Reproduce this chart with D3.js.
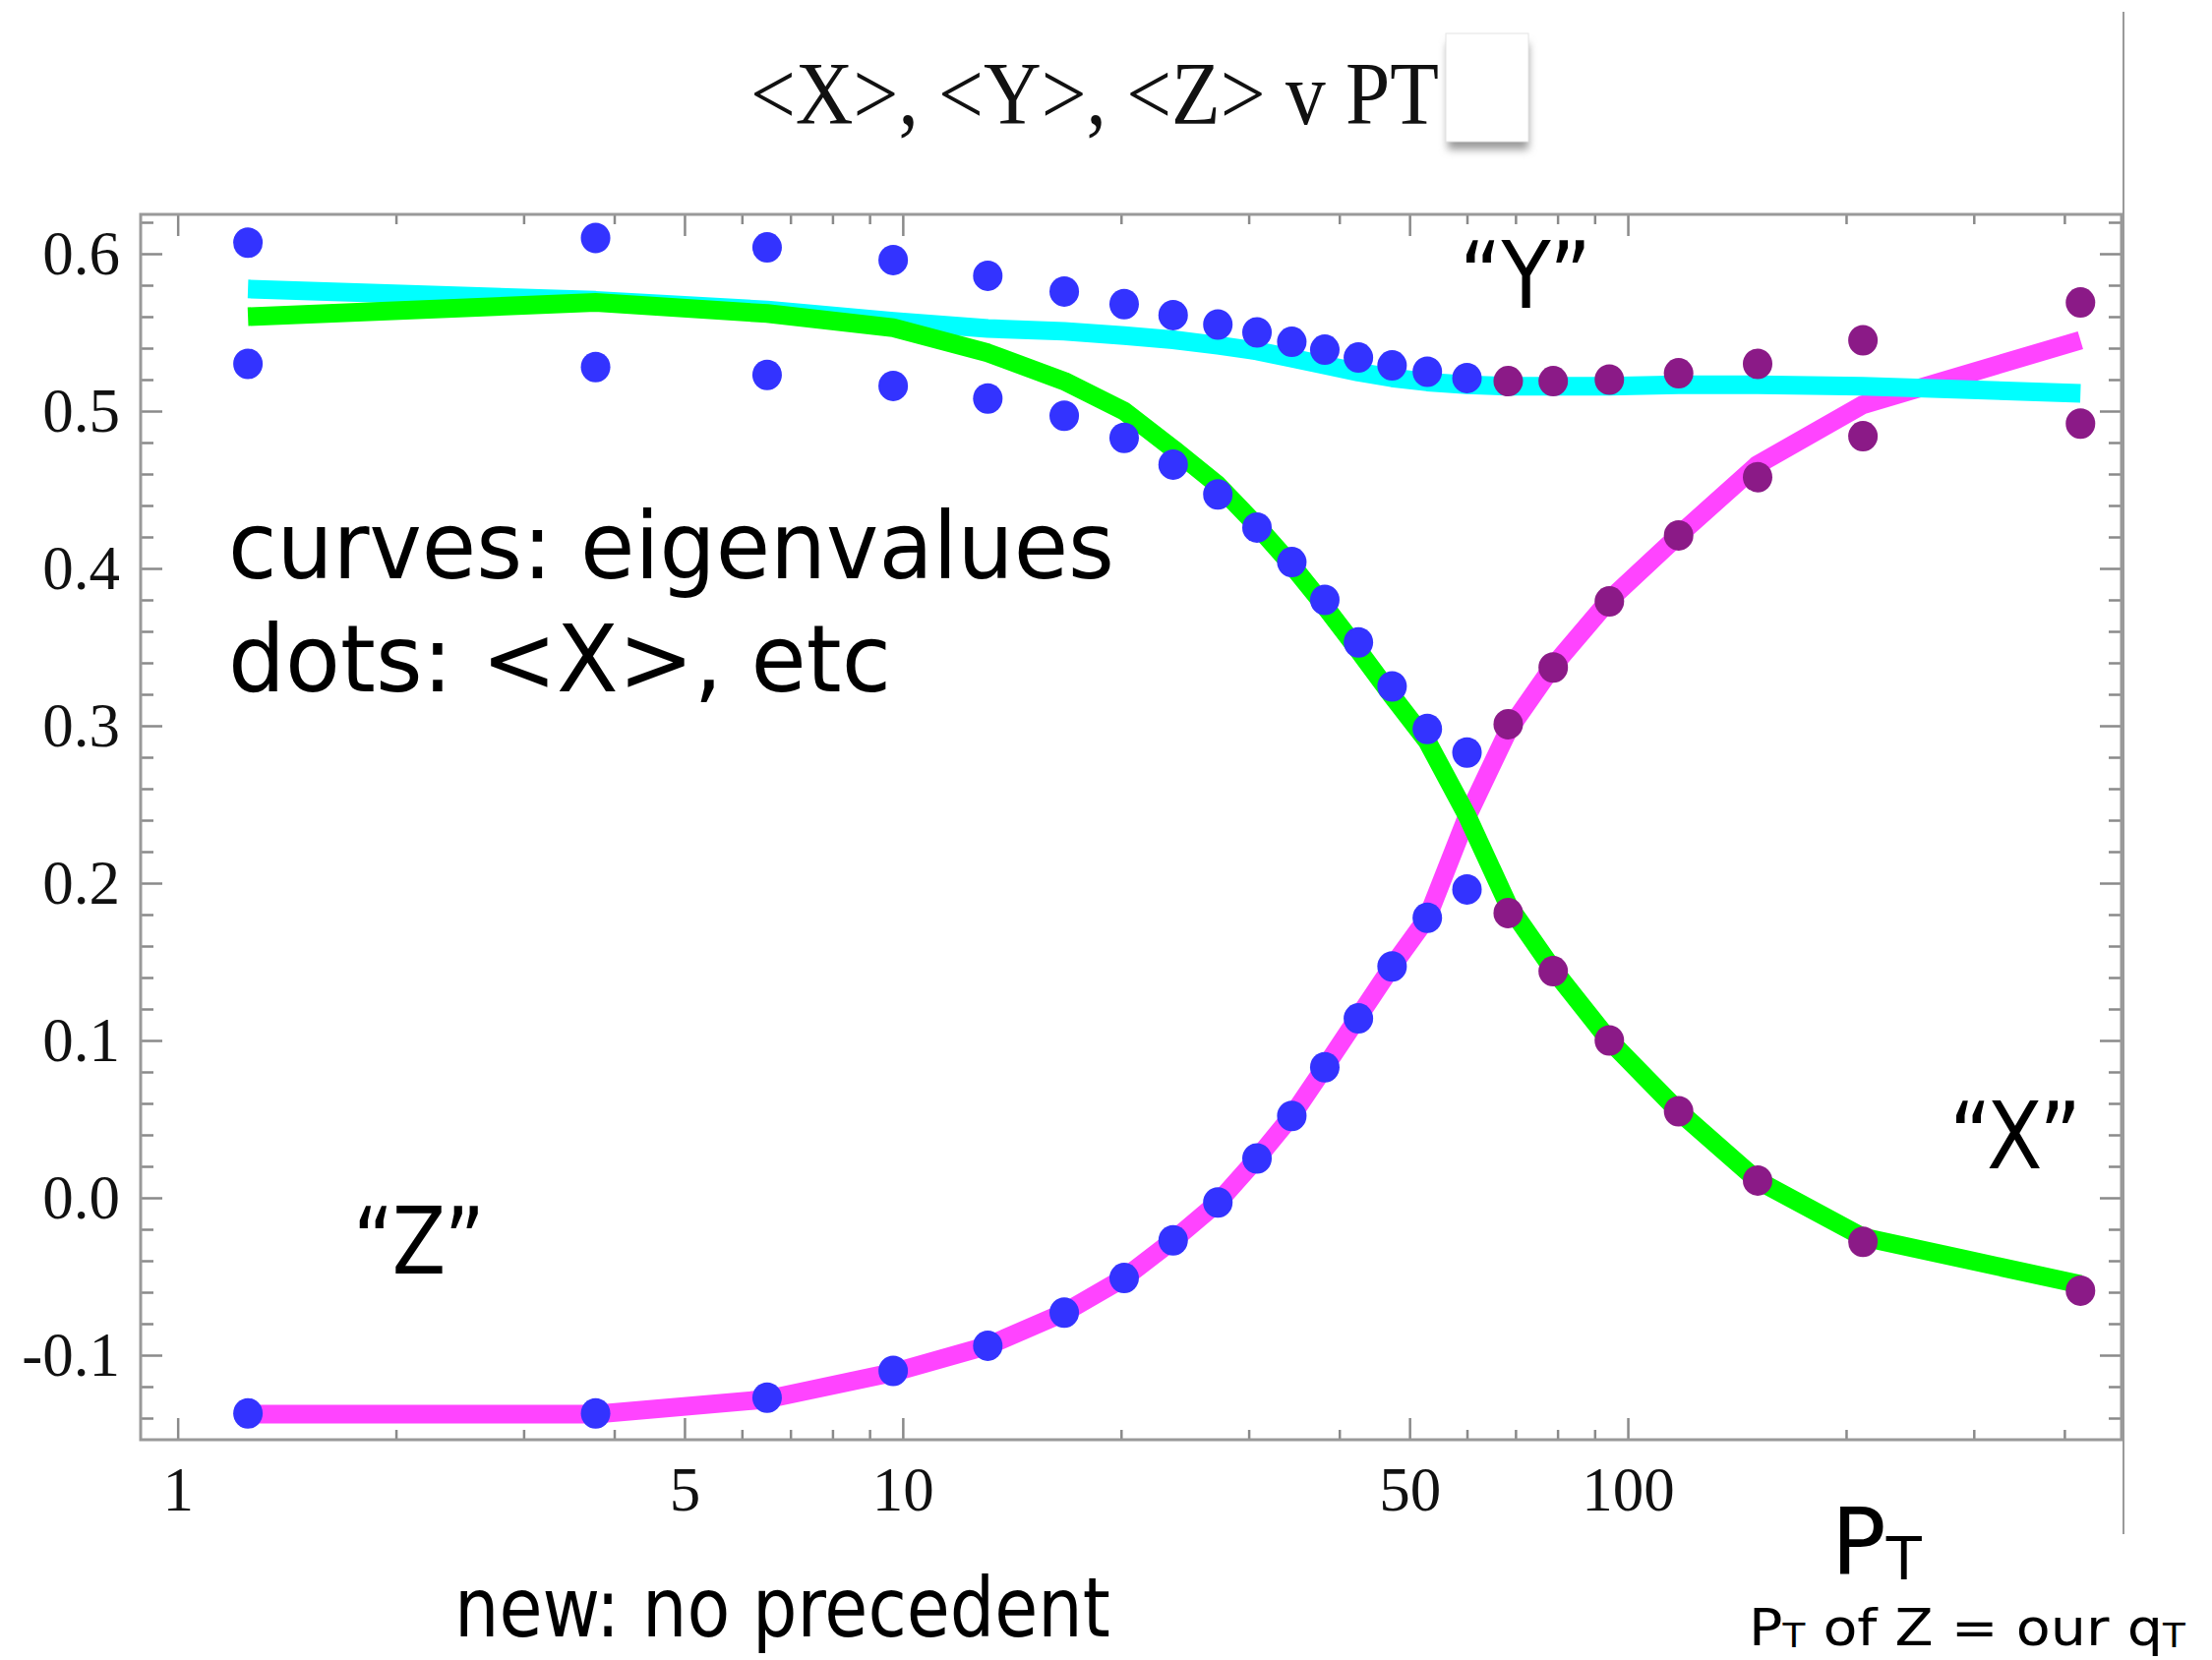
<!DOCTYPE html>
<html>
<head>
<meta charset="utf-8">
<script src="https://cdn.jsdelivr.net/npm/d3@7"></script>
<style>
  html, body { margin: 0; padding: 0; background: #ffffff; }
  svg { display: block; }
</style>
</head>
<body>
<svg id="chart" width="2249" height="1688"></svg>
<script>
// ---------------- data ----------------
const ptValues = [1.25, 3.77, 6.5, 9.7, 13.1, 16.7, 20.2, 23.6, 27.2, 30.8, 34.4, 38.2,
                  42.5, 47.3, 52.9, 60.0, 68.4, 78.9, 94.3, 117.5, 151, 211, 421];

// dots: <X>, <Y>, <Z> (sorted top / middle / bottom at each PT)
const dotsTop = [0.607, 0.610, 0.604, 0.596, 0.586, 0.576, 0.568, 0.561, 0.555, 0.550, 0.544, 0.539,
                 0.534, 0.529, 0.525, 0.521, 0.519, 0.519, 0.520, 0.524, 0.530, 0.545, 0.569];
const dotsMid = [0.530, 0.528, 0.523, 0.516, 0.508, 0.497, 0.483, 0.466, 0.447, 0.426, 0.404, 0.380,
                 0.353, 0.325, 0.298, 0.283, 0.301, 0.337, 0.379, 0.421, 0.458, 0.484, 0.492];
const dotsLow = [-0.137, -0.137, -0.127, -0.110, -0.094, -0.073, -0.051, -0.027, -0.003, 0.025, 0.052, 0.083,
                 0.114, 0.147, 0.178, 0.196, 0.181, 0.144, 0.100, 0.055, 0.011, -0.028, -0.059];

// curves: eigenvalues
const eigCyan    = [0.5776, 0.5704, 0.5642, 0.5570, 0.5525, 0.5507, 0.5480, 0.5453, 0.5418, 0.5382, 0.5337, 0.5292,
                    0.5247, 0.5211, 0.5185, 0.5167, 0.5158, 0.5158, 0.5158, 0.5167, 0.5167, 0.5158, 0.5113];
const eigGreen   = [0.560, 0.569, 0.562, 0.553, 0.537, 0.519, 0.500, 0.476, 0.453, 0.427, 0.402, 0.376,
                    0.348, 0.319, 0.290, 0.243, 0.186, 0.145, 0.100, 0.055, 0.011, -0.025, -0.055];
const eigMagenta = [-0.1375, -0.1375, -0.128, -0.111, -0.094, -0.073, -0.051, -0.027, -0.003, 0.025, 0.052, 0.083,
                    0.115, 0.147, 0.178, 0.242, 0.297, 0.338, 0.380, 0.421, 0.466, 0.504, 0.545];

// dots above this PT are drawn in the second colour
const dotColourSwitchPt = 65;

// ticks
const xMajorTicks = [1, 5, 10, 50, 100];
const xMinorTicks = [2, 3, 4, 6, 7, 8, 9, 20, 30, 40, 60, 70, 80, 90, 200, 300, 400];
const yMajorTicks = [-0.1, 0.0, 0.1, 0.2, 0.3, 0.4, 0.5, 0.6];
const yMinorTicks = [-0.14, -0.12, -0.08, -0.06, -0.04, -0.02, 0.02, 0.04, 0.06, 0.08, 0.12, 0.14, 0.16, 0.18,
                     0.22, 0.24, 0.26, 0.28, 0.32, 0.34, 0.36, 0.38, 0.42, 0.44, 0.46, 0.48,
                     0.52, 0.54, 0.56, 0.58, 0.62];

const titleText = "<X>, <Y>, <Z> v PT";

// ---------------- layout ----------------
const svg = d3.select("#chart");
const L = 143, R = 2157, T = 218, B = 1464;

const x = d3.scaleLog().domain([0.889, 479.6]).range([L, R]);
const y = d3.scaleLinear().domain([-0.15375, 0.625]).range([B, T]);

const serif = "'Liberation Serif', 'Times New Roman', Times, serif";
const sans = "'DejaVu Sans', 'Noto Sans', sans-serif";

function fitText(sel, targetWidth, tx, ty) {
  const w = sel.node().getBBox().width;
  const s = targetWidth / w;
  sel.attr("transform", `translate(${tx},${ty}) scale(${s},1)`);
}

// ---------------- title + covering box ----------------
const title = svg.append("text")
  .attr("x", 0).attr("y", 0)
  .attr("font-family", serif).attr("font-size", 90)
  .attr("fill", "#111")
  .text(titleText);
fitText(title, 700, 763, 126);

const defs = svg.append("defs");
const blur = defs.append("filter").attr("id", "shadow").attr("x", "-30%").attr("y", "-30%")
  .attr("width", "160%").attr("height", "160%");
blur.append("feGaussianBlur").attr("stdDeviation", 4);
svg.append("rect").attr("x", 1472).attr("y", 44).attr("width", 82).attr("height", 108)
  .attr("fill", "#9a9a9a").attr("filter", "url(#shadow)");
svg.append("rect").attr("x", 1470).attr("y", 34).attr("width", 84).attr("height", 110)
  .attr("fill", "#ffffff").attr("stroke", "#e4e4e4").attr("stroke-width", 1);

// right vertical slide line
svg.append("line").attr("x1", 2159).attr("x2", 2159).attr("y1", 12).attr("y2", 1560)
  .attr("stroke", "#9a9a9a").attr("stroke-width", 2);

// ---------------- axes (frame with inward ticks) ----------------
const tickColor = "#8a8a8a";
function styleAxis(g) {
  g.select(".domain").remove();
  g.selectAll(".tick line").attr("stroke", tickColor).attr("stroke-width", 2.5);
  g.selectAll(".tick text").attr("fill", "#111").attr("font-family", serif).attr("font-size", 63);
}

// bottom
svg.append("g").attr("transform", `translate(0,${B})`)
  .call(d3.axisBottom(x).tickValues(xMajorTicks).tickSize(-22).tickPadding(27).tickFormat(d3.format("d")))
  .call(styleAxis);
svg.append("g").attr("transform", `translate(0,${B})`)
  .call(d3.axisBottom(x).tickValues(xMinorTicks).tickSize(-10).tickFormat(""))
  .call(styleAxis);
// top
svg.append("g").attr("transform", `translate(0,${T})`)
  .call(d3.axisTop(x).tickValues(xMajorTicks).tickSize(-22).tickFormat(""))
  .call(styleAxis);
svg.append("g").attr("transform", `translate(0,${T})`)
  .call(d3.axisTop(x).tickValues(xMinorTicks).tickSize(-10).tickFormat(""))
  .call(styleAxis);
// left
svg.append("g").attr("transform", `translate(${L},0)`)
  .call(d3.axisLeft(y).tickValues(yMajorTicks).tickSize(-22).tickPadding(21)
        .tickFormat(d => d3.format(".1f")(d).replace("\u2212", "-")))
  .call(styleAxis);
svg.append("g").attr("transform", `translate(${L},0)`)
  .call(d3.axisLeft(y).tickValues(yMinorTicks).tickSize(-13).tickFormat(""))
  .call(styleAxis);
// right
svg.append("g").attr("transform", `translate(${R},0)`)
  .call(d3.axisRight(y).tickValues(yMajorTicks).tickSize(-22).tickFormat(""))
  .call(styleAxis);
svg.append("g").attr("transform", `translate(${R},0)`)
  .call(d3.axisRight(y).tickValues(yMinorTicks).tickSize(-13).tickFormat(""))
  .call(styleAxis);

// frame
svg.append("rect").attr("x", L).attr("y", T).attr("width", R - L).attr("height", B - T)
  .attr("fill", "none").attr("stroke", "#999999").attr("stroke-width", 3);

// ---------------- curves ----------------
const line = d3.line().x(d => x(d[0])).y(d => y(d[1]));
const curves = [
  { vals: eigMagenta, color: "#ff44ff" },
  { vals: eigCyan,    color: "#00ffff" },
  { vals: eigGreen,   color: "#00ff00" }
];
svg.append("g").selectAll("path").data(curves).join("path")
  .attr("d", c => line(ptValues.map((p, i) => [p, c.vals[i]])))
  .attr("fill", "none")
  .attr("stroke", c => c.color)
  .attr("stroke-width", 19)
  .attr("stroke-linejoin", "round")
  .attr("stroke-linecap", "butt");

// ---------------- dots ----------------
const dotData = [];
[dotsTop, dotsMid, dotsLow].forEach(series => {
  series.forEach((v, i) => dotData.push({ pt: ptValues[i], v }));
});
svg.append("g").selectAll("ellipse").data(dotData).join("ellipse")
  .attr("cx", d => x(d.pt))
  .attr("cy", d => y(d.v))
  .attr("rx", 15).attr("ry", 15.5)
  .attr("fill", d => d.pt < dotColourSwitchPt ? "#3333ff" : "#8b1a87");

// ---------------- annotations ----------------
function annot(str, size, width, tx, ty) {
  const t = svg.append("text").attr("x", 0).attr("y", 0)
    .attr("font-family", sans).attr("font-size", size).attr("fill", "#000").text(str);
  fitText(t, width, tx, ty);
  return t;
}
annot("curves: eigenvalues", 95, 901, 232, 588);
annot("dots: <X>, etc", 95, 674, 232, 703);
annot("\u201CY\u201D", 95, 134, 1484, 313);
annot("\u201CZ\u201D", 95, 134, 359, 1295);
annot("\u201CX\u201D", 95, 134, 1982, 1188);
annot("new: no precedent", 84, 667, 462, 1664);

// P_T axis label
const pt1 = svg.append("text").attr("x", 0).attr("y", 0)
  .attr("font-family", sans).attr("font-size", 94).attr("fill", "#000");
pt1.append("tspan").text("P");
pt1.append("tspan").attr("font-size", 60).attr("dy", 5).text("T");
fitText(pt1, 92, 1862, 1601);

// "P_T of Z = our q_T"
const pt2 = svg.append("text").attr("x", 0).attr("y", 0)
  .attr("font-family", sans).attr("font-size", 52).attr("fill", "#000");
pt2.append("tspan").text("P");
pt2.append("tspan").attr("font-size", 34).attr("dy", 2).text("T");
pt2.append("tspan").attr("dy", -2).text(" of Z = our q");
pt2.append("tspan").attr("font-size", 34).attr("dy", 2).text("T");
fitText(pt2, 444, 1778, 1673);
</script>
</body>
</html>
